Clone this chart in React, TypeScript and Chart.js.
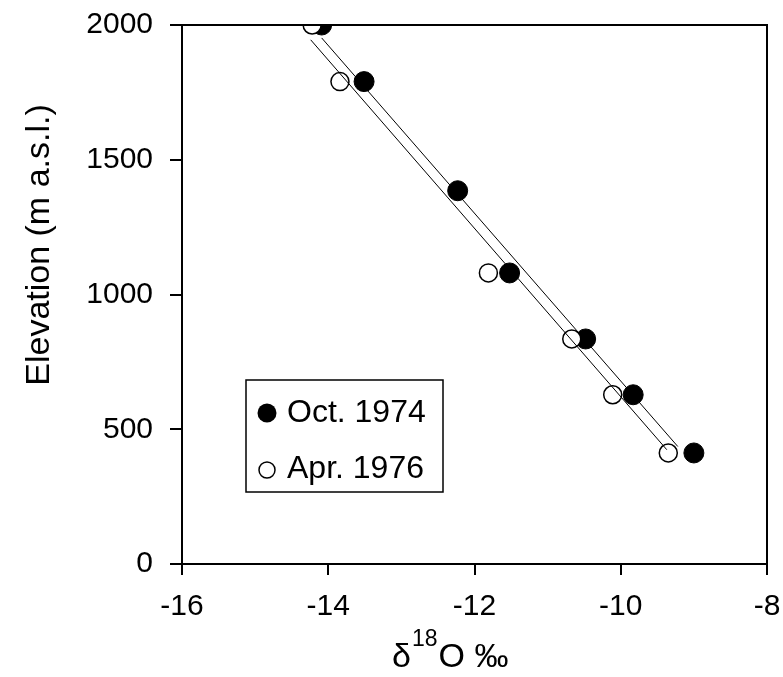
import React, { useEffect, useRef } from "react";
import { Chart, registerables } from "chart.js";

Chart.register(...registerables);

// Oct. 1974 samples (filled circles)
const octDelta = [-14.09, -13.51, -12.23, -11.52, -10.48, -9.83, -9.0];
const octElev = [2000, 1790, 1385, 1080, 835, 628, 412];
// Apr. 1976 samples (open circles)
const aprDelta = [-14.22, -13.84, -11.81, -10.67, -10.11, -9.35];
const aprElev = [2000, 1790, 1080, 835, 628, 412];
// Fitted lines (end points)
const octFitDelta = [-14.09, -9.22];
const octFitElev = [1952, 436];
const aprFitDelta = [-14.24, -9.37];
const aprFitElev = [1945, 424];

const seriesNames = ["Oct. 1974", "Apr. 1976"];
const xTicks = [-16, -14, -12, -10, -8];
const yTicks = [0, 500, 1000, 1500, 2000];
const yTitle = "Elevation (m a.s.l.)";

const FONT = "'Liberation Sans', Arial, sans-serif";

const toPts = (xs: number[], ys: number[]) => xs.map((x, i) => ({ x, y: ys[i] }));

const decorPlugin = {
  id: "decor",
  afterDraw(chart: any) {
    const { ctx, chartArea } = chart;
    const { left, top, right, bottom } = chartArea;
    ctx.save();
    // frame top/right
    ctx.strokeStyle = "#000";
    ctx.lineWidth = 2;
    ctx.beginPath();
    ctx.moveTo(left, top);
    ctx.lineTo(right, top);
    ctx.lineTo(right, bottom);
    ctx.stroke();

    // legend box
    const lx = left + 64;
    const ly = top + 355;
    const lw = 197;
    const lh = 112;
    ctx.lineWidth = 1.5;
    ctx.strokeRect(lx, ly, lw, lh);
    ctx.fillStyle = "#000";
    ctx.beginPath();
    ctx.arc(lx + 21, ly + 33, 9.5, 0, Math.PI * 2);
    ctx.fill();
    ctx.fillStyle = "#fff";
    ctx.beginPath();
    ctx.arc(lx + 21, ly + 90, 8, 0, Math.PI * 2);
    ctx.fill();
    ctx.lineWidth = 1.5;
    ctx.stroke();
    ctx.fillStyle = "#000";
    ctx.font = `32px ${FONT}`;
    ctx.textBaseline = "middle";
    ctx.textAlign = "left";
    ctx.fillText(seriesNames[0], lx + 41, ly + 33);
    ctx.fillText(seriesNames[1], lx + 41, ly + 89);

    // y title
    ctx.save();
    ctx.translate(49, 245);
    ctx.rotate(-Math.PI / 2);
    ctx.font = `34px ${FONT}`;
    ctx.textAlign = "center";
    ctx.textBaseline = "alphabetic";
    ctx.fillText(yTitle, 0, 0);
    ctx.restore();

    // x title: δ18O ‰
    ctx.textBaseline = "alphabetic";
    ctx.textAlign = "left";
    const baseY = 667;
    let x = 392;
    ctx.font = `34px ${FONT}`;
    ctx.fillText("δ", x, baseY);
    x += ctx.measureText("δ").width + 1;
    ctx.font = `23px ${FONT}`;
    ctx.fillText("18", x, baseY - 21);
    x += ctx.measureText("18").width + 1;
    ctx.font = `34px ${FONT}`;
    ctx.fillText("O ‰", x, baseY);
    ctx.restore();
  },
};

export default function App() {
  const ref = useRef<HTMLCanvasElement>(null);
  useEffect(() => {
    if (!ref.current) return;
    const chart = new Chart(ref.current, {
      type: "scatter",
      data: {
        datasets: [
          {
            label: "fit1974",
            data: toPts(octFitDelta, octFitElev),
            showLine: true,
            borderColor: "#000",
            borderWidth: 1,
            pointRadius: 0,
            order: 0,
          },
          {
            label: "fit1976",
            data: toPts(aprFitDelta, aprFitElev),
            showLine: true,
            borderColor: "#000",
            borderWidth: 1,
            pointRadius: 0,
            order: 0,
          },
          {
            label: seriesNames[1],
            data: toPts(aprDelta, aprElev),
            pointRadius: 9,
            pointBackgroundColor: "#fff",
            pointBorderColor: "#000",
            pointBorderWidth: 1.5,
            order: 1,
          },
          {
            label: seriesNames[0],
            data: toPts(octDelta, octElev),
            pointRadius: 10,
            pointBackgroundColor: "#000",
            pointBorderColor: "#000",
            pointBorderWidth: 1,
            order: 2,
          },
        ],
      },
      options: {
        responsive: false,
        animation: false,
        layout: { padding: { top: 25, right: 16, left: 0, bottom: 0 } },
        plugins: { legend: { display: false }, tooltip: { enabled: false } },
        scales: {
          x: {
            type: "linear",
            min: xTicks[0],
            max: xTicks[xTicks.length - 1],
            afterBuildTicks: (s: any) => {
              s.ticks = xTicks.map((v) => ({ value: v }));
            },
            afterFit: (s: any) => {
              s.height = 113;
              s.paddingLeft = 0;
              s.paddingRight = 0;
            },
            ticks: {
              color: "#000",
              font: { family: FONT, size: 30 },
              padding: 14,
              maxRotation: 0,
              callback: (v: any) => String(v),
            },
            grid: {
              drawOnChartArea: false,
              drawTicks: true,
              tickLength: 11,
              color: "#000",
              lineWidth: 2,
            },
            border: { display: true, color: "#000", width: 2 },
          },
          y: {
            type: "linear",
            min: yTicks[0],
            max: yTicks[yTicks.length - 1],
            afterBuildTicks: (s: any) => {
              s.ticks = yTicks.map((v) => ({ value: v }));
            },
            afterFit: (s: any) => {
              s.width = 182;
              s.paddingTop = 0;
              s.paddingBottom = 0;
            },
            ticks: {
              color: "#000",
              font: { family: FONT, size: 30 },
              padding: 17,
              callback: (v: any) => String(v),
            },
            grid: {
              drawOnChartArea: false,
              drawTicks: true,
              tickLength: 12,
              color: "#000",
              lineWidth: 2,
            },
            border: { display: true, color: "#000", width: 2 },
          },
        },
      },
      plugins: [decorPlugin],
    });
    return () => chart.destroy();
  }, []);
  return (
    <div style={{ position: "absolute", left: 0, top: 0, width: 783, height: 677, background: "#fff" }}>
      <canvas ref={ref} width={783} height={677} />
    </div>
  );
}
